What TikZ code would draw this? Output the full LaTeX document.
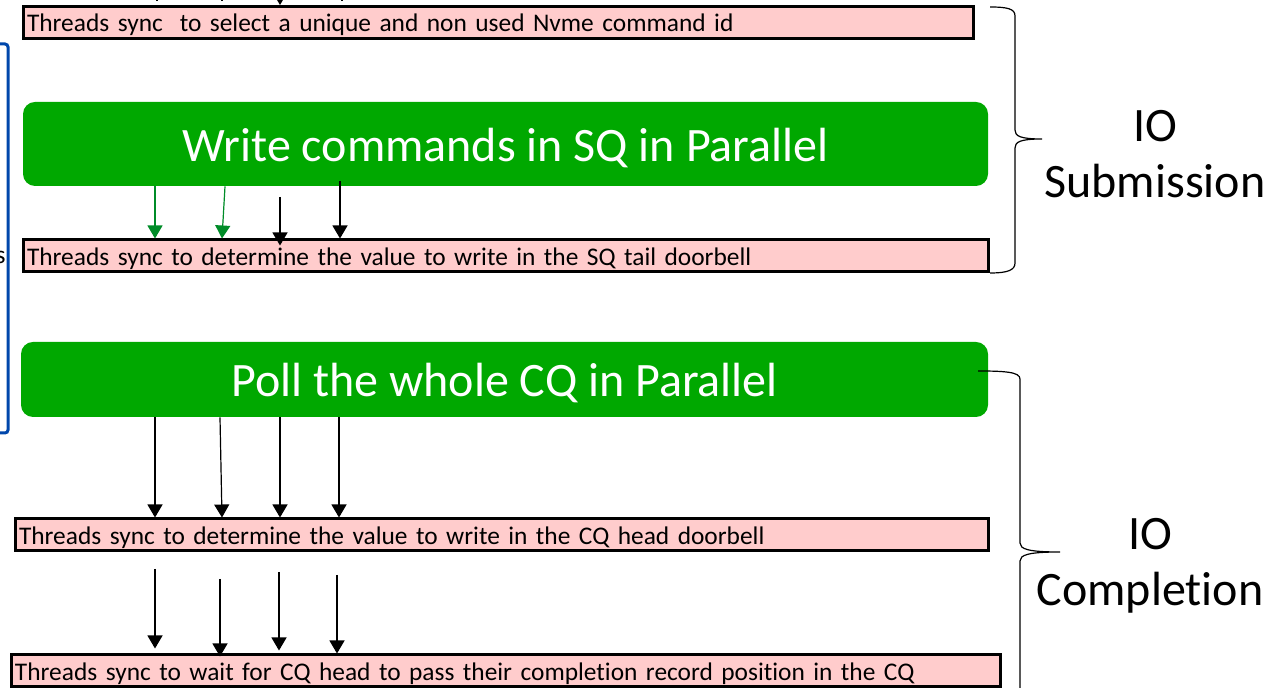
\documentclass[tikz,border=0pt]{standalone}
\usepackage{fontspec}
\setmainfont{Carlito}[RawFeature={-liga}]
\usetikzlibrary{arrows.meta}
\definecolor{pinkfill}{RGB}{255,204,204}
\definecolor{boxgreen}{RGB}{0,168,0}
\definecolor{arrowgreen}{RGB}{0,140,40}
\definecolor{frameblue}{RGB}{0,71,171}
\tikzset{
  syncbox/.style={draw=black, line width=1.5pt, fill=pinkfill, minimum height=16pt,
    inner xsep=2pt, inner ysep=0pt, align=left, text width=#1,
    text height=9.5pt, text depth=0pt,
    font=\fontsize{12.7}{15}\selectfont},
  stagebox/.style={fill=boxgreen, rounded corners=6pt, text=white, inner sep=0pt,
    text depth=0pt, font=\fontsize{24}{28}\selectfont},
  arr/.style={-{Triangle[width=7.5pt,length=6.5pt]}, line width=0.6pt, draw=black},
  garr/.style={arr, draw=arrowgreen, fill=arrowgreen},
  bracepath/.style={line width=0.6pt, draw=black},
  sidelabel/.style={font=\fontsize{24}{28}\selectfont, align=center},
}
\begin{document}
\begin{tikzpicture}[x=0.5pt, y=-0.5pt]
\useasboundingbox (0,0) rectangle (1276,688);
\clip (0,0) rectangle (1276,688);

% thread columns
\coordinate (c1) at (155,0);
\coordinate (c2) at (222,0);
\coordinate (c3) at (280,0);
\coordinate (c4) at (340,0);

% synchronisation steps
\node[syncbox=471pt] (b1) at (498,22.5) {Threads sync\ \ to select a unique and non used Nvme command id};
\node[syncbox=478.5pt] (b2) at (505.5,256) {Threads sync to determine the value to write in the SQ tail doorbell};
\node[syncbox=482.5pt] (b3) at (501.5,535) {Threads sync to determine the value to write in the CQ head doorbell};
\node[syncbox=490.5pt] (b4) at (505.5,671) {Threads sync to wait for CQ head to pass their completion record position in the CQ};

% parallel stages
\node[stagebox, text height=18pt, minimum width=482.5pt, minimum height=42pt] (g1) at (505.5,144) {Write commands in SQ in Parallel};
\node[stagebox, text height=17.5pt, minimum width=483.5pt, minimum height=37.5pt] (g2) at (504.5,379.5) {Poll the whole CQ in Parallel};

% arrows entering the first step from above
\coordinate (t1) at (157,-20);
\coordinate (t2) at (222,-20);
\coordinate (t3) at (280,-20);
\coordinate (t4) at (342,-20);
\draw[line width=0.6pt] (t1) -- ++(0,21);
\draw[line width=0.6pt] (t2) -- ++(0,21);
\draw[line width=0.6pt] (t4) -- ++(0,21);
\draw[arr] (t3) -- (b1.north -| c3);

% write stage -> SQ tail doorbell
\draw[garr] (g1.south -| c1) -- (b2.north -| c1);
\draw[garr] ([xshift=1.5pt]g1.south -| c2) -- (b2.north -| c2);
\coordinate (s3) at (280,197);
\draw[arr] (s3) -- ([yshift=-3.5pt]b2.north -| c3);
\coordinate (s4) at (340,181);
\draw[arr] (s4) -- (b2.north -| c4);

% poll stage -> CQ head doorbell
\draw[arr] (g2.south -| c1) -- (b3.north -| c1);
\draw[arr] ([xshift=-1pt]g2.south -| c2) -- (b3.north -| c2);
\draw[arr] (g2.south -| c3) -- (b3.north -| c3);
\draw[arr] ([xshift=-0.5pt]g2.south -| c4) -- ([xshift=-0.5pt]b3.north -| c4);

% CQ head doorbell -> wait for CQ head
\coordinate (w1) at (155,569);
\coordinate (w2) at (220,579);
\coordinate (w3) at (279,572);
\coordinate (w4) at (337,575);
\draw[arr] (w1) -- ([yshift=2.5pt]b4.north -| w1);
\draw[arr] (w2) -- ([yshift=-1.5pt]b4.north -| w2);
\draw[arr] (w3) -- ([yshift=1.5pt]b4.north -| w3);
\draw[arr] (w4) -- (b4.north -| w4);

% enclosing frame on the left
\draw[frameblue, line width=1.5pt, rounded corners=1.5pt] (-10,44) -- (8,44) -- (8,433) -- (-10,433);
\node[anchor=east, inner sep=0pt, font=\fontsize{12.7}{15}\selectfont] (lefttxt) at (6,257) {s};

% braces and their labels
\draw[bracepath] (990,7) .. controls (1008,7) and (1015,9) .. (1015,16)
  -- (1015,130) .. controls (1015,136) and (1020,139) .. (1042,139)
  .. controls (1020,139) and (1015,142) .. (1015,148)
  -- (1015,263) .. controls (1015,270) and (1008,273) .. (990,273);
\node[sidelabel] (sub) at (1155,154) {IO\\Submission};

\draw[bracepath] (978,371) .. controls (1005,371) and (1020,372) .. (1020,379)
  -- (1020,543) .. controls (1020,549) and (1028,552) .. (1060,552)
  .. controls (1028,552) and (1020,555) .. (1020,561)
  -- (1020,740);
\node[sidelabel] (comp) at (1150,566) {IO\\Completion};
\end{tikzpicture}
\end{document}
